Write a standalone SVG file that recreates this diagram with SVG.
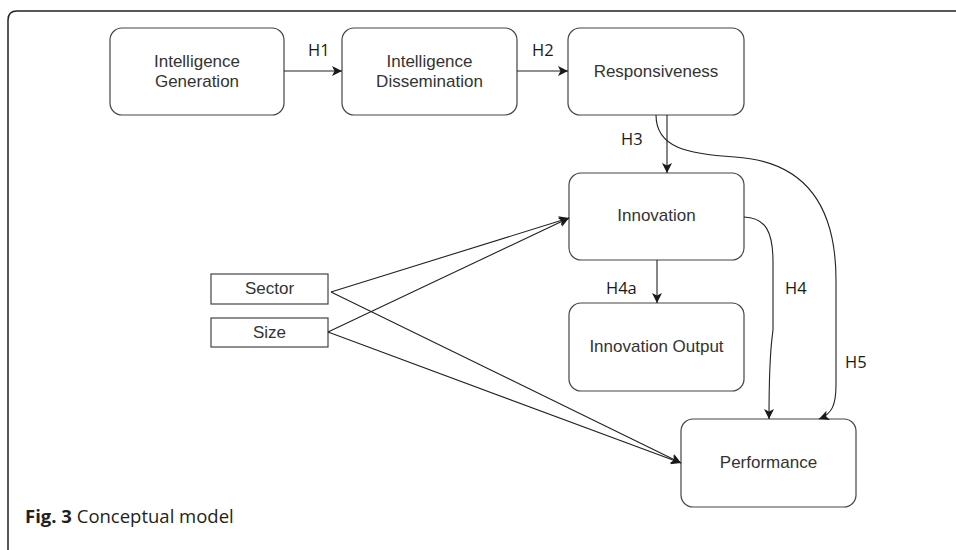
<svg xmlns="http://www.w3.org/2000/svg" width="956" height="550" viewBox="0 0 956 550">
<defs>
<marker id="arr" viewBox="0 0 10 10" refX="10" refY="5" markerWidth="11" markerHeight="10" markerUnits="userSpaceOnUse" orient="auto">
<path d="M0,0 L10,5 L0,10 L2.5,5 Z" fill="#1a1a1a"/>
</marker>
</defs>
<style>
.node rect{fill:#fff;stroke:#444;stroke-width:1.2}
.node text{font-family:"Liberation Sans",Arial,sans-serif;font-size:17px;fill:#333;text-anchor:middle}
.lbl{font-family:"Open Sans","Noto Sans",sans-serif;font-size:16.5px;fill:#1a1a1a}
.conn path,.conn line{fill:none;stroke:#222;stroke-width:1.1;marker-end:url(#arr)}
.cap{font-family:"Open Sans","Noto Sans",sans-serif;font-size:18.5px;fill:#231f20}
</style>
<rect width="956" height="550" fill="#fff"/>
<path d="M8,560 L8,20 Q8,11 17,11 L970,11" fill="none" stroke="#222" stroke-width="1.5"/>
<g id="n-gen" class="node"><rect x="110" y="28" width="174" height="87" rx="12"/><text x="197" y="67">Intelligence</text><text x="197" y="87">Generation</text></g>
<g id="n-diss" class="node"><rect x="342" y="28" width="175" height="87" rx="12"/><text x="429.5" y="67">Intelligence</text><text x="429.5" y="87">Dissemination</text></g>
<g id="n-resp" class="node"><rect x="568" y="28" width="176" height="87" rx="12"/><text x="656" y="77">Responsiveness</text></g>
<g id="n-innov" class="node"><rect x="569" y="173" width="175" height="87" rx="12"/><text x="656.5" y="221">Innovation</text></g>
<g id="n-out" class="node"><rect x="569" y="303" width="175" height="88" rx="12"/><text x="656.5" y="352">Innovation Output</text></g>
<g id="n-perf" class="node"><rect x="681" y="419" width="175" height="88" rx="12"/><text x="768.5" y="468">Performance</text></g>
<g id="n-sector" class="node"><rect x="211" y="274" width="117" height="30" rx="0"/><text x="269.5" y="294">Sector</text></g>
<g id="n-size" class="node"><rect x="211" y="318" width="117" height="29" rx="0"/><text x="269.5" y="338">Size</text></g>
<g id="connectors" class="conn">
<line x1="284" y1="71" x2="342" y2="71"/>
<line x1="517" y1="71" x2="568" y2="71"/>
<line x1="667" y1="115" x2="667" y2="173"/>
<line x1="657" y1="260" x2="657" y2="303"/>
<path d="M744,217 C766,218 773,232 773,262 L773,330 C772,340 769,350 769,419"/>
<path d="M656,115 C656,148 688,154 735,157 C800,161 836,200 836,280 L836,385 C836,405 832,414 819,419"/>
<line x1="331" y1="292" x2="569" y2="218"/>
<line x1="328" y1="332" x2="569" y2="218"/>
<line x1="331" y1="292" x2="681" y2="463"/>
<line x1="328" y1="332" x2="681" y2="463"/>
</g>
<g id="labels">
<text class="lbl" x="308" y="56">H1</text>
<text class="lbl" x="532" y="56">H2</text>
<text class="lbl" x="621" y="145">H3</text>
<text class="lbl" x="606" y="294">H4a</text>
<text class="lbl" x="785" y="294">H4</text>
<text class="lbl" x="845" y="368">H5</text>
</g>
<text class="cap" x="25" y="523"><tspan font-weight="bold">Fig. 3</tspan> Conceptual model</text>
</svg>
